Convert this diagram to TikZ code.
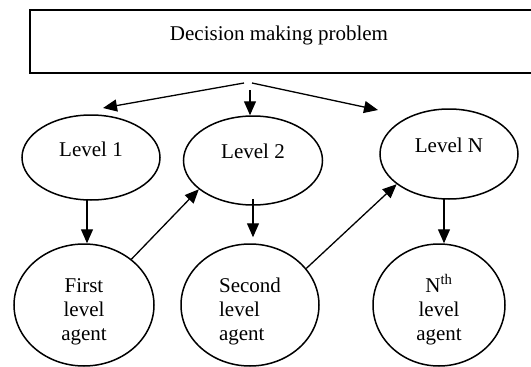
\documentclass[tikz,border=0pt]{standalone}
\usepackage{fontspec}
\setmainfont{Liberation Serif}
\usetikzlibrary{shapes.geometric,arrows.meta}
\begin{document}
\begin{tikzpicture}[x=1pt,y=-1pt,
  every node/.style={font=\fontsize{21}{24}\selectfont, inner sep=0pt},
  oval/.style={draw, ellipse, line width=1.5pt},
  agentoval/.style={oval, minimum height=122pt, text height=74pt, text depth=4pt},
  arr/.style={-{Triangle[length=14pt,width=12pt]}, line width=1.3pt},
]
\useasboundingbox (0,0) rectangle (531,367);
\node[draw, line width=2pt, minimum width=506pt, minimum height=63pt, anchor=north west,
      text height=14pt, text depth=16pt] (dm) at (29,9) {\hspace*{-8pt}Decision making problem};
\node[oval, minimum width=138pt, minimum height=85pt, text height=14pt, text depth=17pt] (l1) at (91,157.5) {Level 1};
\node[oval, minimum width=139pt, minimum height=89pt, text height=14pt, text depth=19pt] (l2) at (253,160.5) {Level 2};
\node[oval, minimum width=138pt, minimum height=90pt, text height=14pt, text depth=18pt] (ln) at (449,154) {Level N};
\node[agentoval, align=center, minimum width=140pt] (a1) at (84,305) {First\\level\\agent};
\node[agentoval, align=left, minimum width=138pt] (a2) at (250,305) {Second\\level\\agent};
\node[agentoval, align=center, minimum width=132pt] (an) at (439,305) {N\textsuperscript{th}\\level\\agent};
\coordinate (o1) at (244,83);
\coordinate (o2) at (250,90);
\coordinate (o3) at (252,83);
\coordinate (t1) at (103,108);
\coordinate (t3) at (378,110);
\draw[arr] (o1) -- (t1);
\draw[arr] (o2) -- (o2 |- l2.north);
\draw[arr] (o3) -- (t3);
\draw[arr] ([xshift=-4pt,yshift=2pt]l1.south) -- ([xshift=3pt]a1.north);
\draw[arr] ([yshift=7pt]l2.south) -- ([xshift=3pt,yshift=6pt]a2.north);
\draw[arr] ([xshift=-5pt,yshift=1pt]ln.south) -- ([xshift=5pt]an.north);
\draw[arr] (a1.44) -- (l2.208);
\draw[arr] (a2.33) -- (ln.210);
\end{tikzpicture}
\end{document}
